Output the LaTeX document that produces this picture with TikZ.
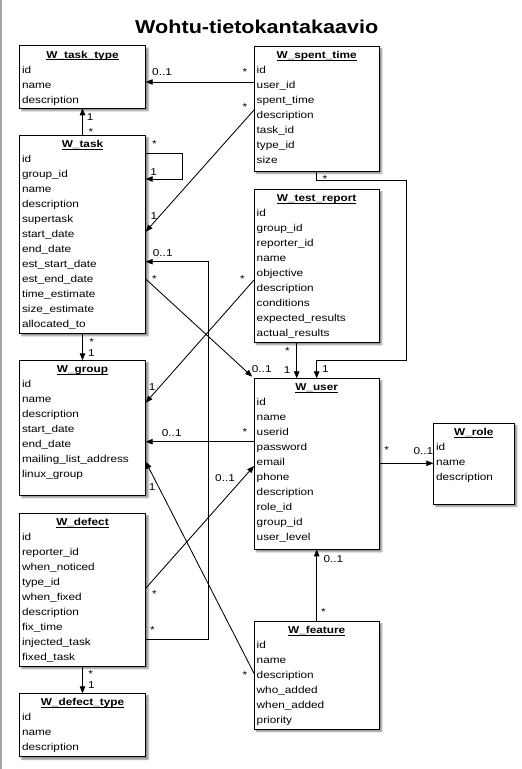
\documentclass[tikz,border=0pt]{standalone}
\usepackage{fontspec}
\setmainfont{Liberation Sans}[FakeStretch=1.18]
\newfontfamily\titlefont{Liberation Sans}[FakeStretch=1.16]
\usetikzlibrary{arrows.meta,calc,shadows.blur}
\newcommand\myul[1]{\setbox0=\hbox{#1}\rlap{\rule[-1.7pt]{\wd0}{0.7pt}}\box0}
\tikzset{
 entity/.style={draw=black, line width=0.9pt, fill=white, rectangle, inner sep=0pt, outer sep=0pt, anchor=north west,
   blur shadow={shadow xshift=2.5pt, shadow yshift=-2.5pt, shadow blur radius=1.5pt, shadow opacity=45}},
 erow/.style={inner sep=0pt, font=\fontsize{10}{12}\selectfont, anchor=base west},
 etitle/.style={inner sep=0pt, font=\fontsize{10}{12}\selectfont\bfseries, anchor=base},
 conn/.style={line width=0.85pt, -{Triangle[length=7pt,width=5.5pt]}},
 mult/.style={inner sep=0pt, font=\fontsize{10}{12}\selectfont},
}
\newcommand\ent[7]{%
 \node[entity, minimum width=#4pt, minimum height=#5pt] (#1) at (#2,#3) {};
 \node[etitle] (#1-t) at ($(#1.north)+(0,12.6)$) {\myul{#6}};
 \foreach \rowtxt [count=\ri] in {#7}
   \node[erow] (#1-\ri) at ($(#1.north west)+(2.5,{12.6+15*\ri})$) {\rowtxt};
}
\begin{document}
\begin{tikzpicture}[x=1pt,y=-1pt]
\useasboundingbox (0,0) rectangle (522,769);
\fill[black!35] (0,0) rectangle (2,769);
\node[font=\titlefont\bfseries\fontsize{18.6}{22}\selectfont, inner sep=0pt, anchor=base] (title) at (256.7,33.3) {Wohtu-tietokantakaavio};

\ent{tasktype}{19.3}{45.7}{126.4}{62.6}{W\_task\_type}{id,name,description}
\ent{spenttime}{254}{46}{125.3}{125}{W\_spent\_time}{id,user\_id,spent\_time,description,task\_id,type\_id,size}
\ent{task}{19.3}{135.3}{126.4}{198}{W\_task}{id,group\_id,name,description,supertask,start\_date,end\_date,est\_start\_date,est\_end\_date,time\_estimate,size\_estimate,allocated\_to}
\ent{testreport}{254}{189.3}{125.3}{153}{W\_test\_report}{id,group\_id,reporter\_id,name,objective,description,conditions,expected\_results,actual\_results}
\ent{group}{19.3}{360.3}{126.4}{134.7}{W\_group}{id,name,description,start\_date,end\_date,mailing\_list\_address,linux\_group}
\ent{user}{254}{378.3}{125.3}{171}{W\_user}{id,name,userid,password,email,phone,description,role\_id,group\_id,user\_level}
\ent{role}{433.3}{423.3}{81}{80.7}{W\_role}{id,name,description}
\ent{defect}{19.3}{513.3}{126.4}{152.7}{W\_defect}{id,reporter\_id,when\_noticed,type\_id,when\_fixed,description,fix\_time,injected\_task,fixed\_task}
\ent{defecttype}{19.3}{693.3}{126.4}{63.4}{W\_defect\_type}{id,name,description}
\ent{feature}{254}{621.3}{125.3}{107.7}{W\_feature}{id,name,description,who\_added,when\_added,priority}

% connectors
\draw[conn] ($(spenttime.north west)+(0,36)$) coordinate (c1) -- (tasktype.east |- c1);
\draw[conn] (task.north) -- (tasktype.south);
\draw[conn] ($(task.north east)+(0,18)$) -- ++(36.3,0) -- ++(0,25.7) coordinate (c3) -- (task.east |- c3);
\draw[conn] ($(spenttime.north west)+(0,64)$) -- ($(task.north east)+(0,96.4)$);
\draw[conn] ($(defect.north east)+(0,125.7)$) -- ++(62.6,0) -- ++(0,-377.3) coordinate (c5) -- (task.east |- c5);
\draw[conn, shorten >=2.5pt] ($(task.north east)+(0,143.7)$) -- (user.north west);
\draw[conn] ($(testreport.north west)+(0,90.7)$) -- ($(group.north east)+(0,42.4)$);
\draw[conn] ($(testreport.south west)+(42.7,0)$) coordinate (c8) -- (user.north -| c8);
\draw[conn] ($(spenttime.south west)+(62.7,0)$) -- ++(0,9.7) -- ++(90,0) -- ++(0,179.3) -- ++(-90,0) coordinate (c9) -- (user.north -| c9);
\draw[conn] ($(user.north west)+(0,63.4)$) coordinate (c10) -- (group.east |- c10);
\draw[conn] ($(user.north east)+(0,85)$) coordinate (c11) -- (role.west |- c11);
\draw[conn] ($(defect.north east)+(0,75)$) -- ($(user.north west)+(0,87.7)$);
\draw[conn] ($(feature.north west)+(0,52)$) -- ($(group.north east)+(0,101.4)$);
\draw[conn] ($(feature.north west)+(62.7,0)$) coordinate (c14) -- (user.south -| c14);
\draw[conn] (defect.south) -- (defecttype.north);
\draw[conn] (task.south) -- (group.north);

% multiplicities
\node[mult,anchor=base west] (m1a) at (152,75.6) {0..1};
\node[mult,anchor=base] (m1b) at (245,75.8) {*};
\node[mult,anchor=base west] (m2a) at (86.7,120.5) {1};
\node[mult,anchor=base] (m2b) at (91,135.8) {*};
\node[mult,anchor=base] (m3a) at (154.3,147.5) {*};
\node[mult,anchor=base west] (m3b) at (150.2,175) {1};
\node[mult,anchor=base] (m4a) at (245,110.8) {*};
\node[mult,anchor=base west] (m4b) at (150.4,219.3) {1};
\node[mult,anchor=base west] (m5a) at (152.7,256) {0..1};
\node[mult,anchor=base] (m5b) at (152.3,633) {*};
\node[mult,anchor=base] (m6a) at (154.3,282.5) {*};
\node[mult,anchor=base west] (m6b) at (251.7,372.7) {0..1};
\node[mult,anchor=base] (m7a) at (242.3,282.5) {*};
\node[mult,anchor=base west] (m7b) at (148.7,390.7) {1};
\node[mult,anchor=base] (m8a) at (287.3,354) {*};
\node[mult,anchor=base west] (m8b) at (283.7,373.3) {1};
\node[mult,anchor=base] (m9a) at (325,182.5) {*};
\node[mult,anchor=base west] (m9b) at (322,372.7) {1};
\node[mult,anchor=base west] (m10a) at (161.7,436) {0..1};
\node[mult,anchor=base] (m10b) at (245,435) {*};
\node[mult,anchor=base] (m11a) at (386.7,453) {*};
\node[mult,anchor=base west] (m11b) at (413.3,454) {0..1};
\node[mult,anchor=base west] (m12a) at (215,481) {0..1};
\node[mult,anchor=base] (m12b) at (154.3,597.5) {*};
\node[mult,anchor=base west] (m13a) at (148.7,490) {1};
\node[mult,anchor=base] (m13b) at (245,678) {*};
\node[mult,anchor=base west] (m14a) at (323.3,562.7) {0..1};
\node[mult,anchor=base] (m14b) at (323.3,615) {*};
\node[mult,anchor=base] (m15a) at (90.7,677.5) {*};
\node[mult,anchor=base west] (m15b) at (88,688.3) {1};
\node[mult,anchor=base] (m16a) at (91.7,345) {*};
\node[mult,anchor=base west] (m16b) at (88,356) {1};
\end{tikzpicture}
\end{document}
